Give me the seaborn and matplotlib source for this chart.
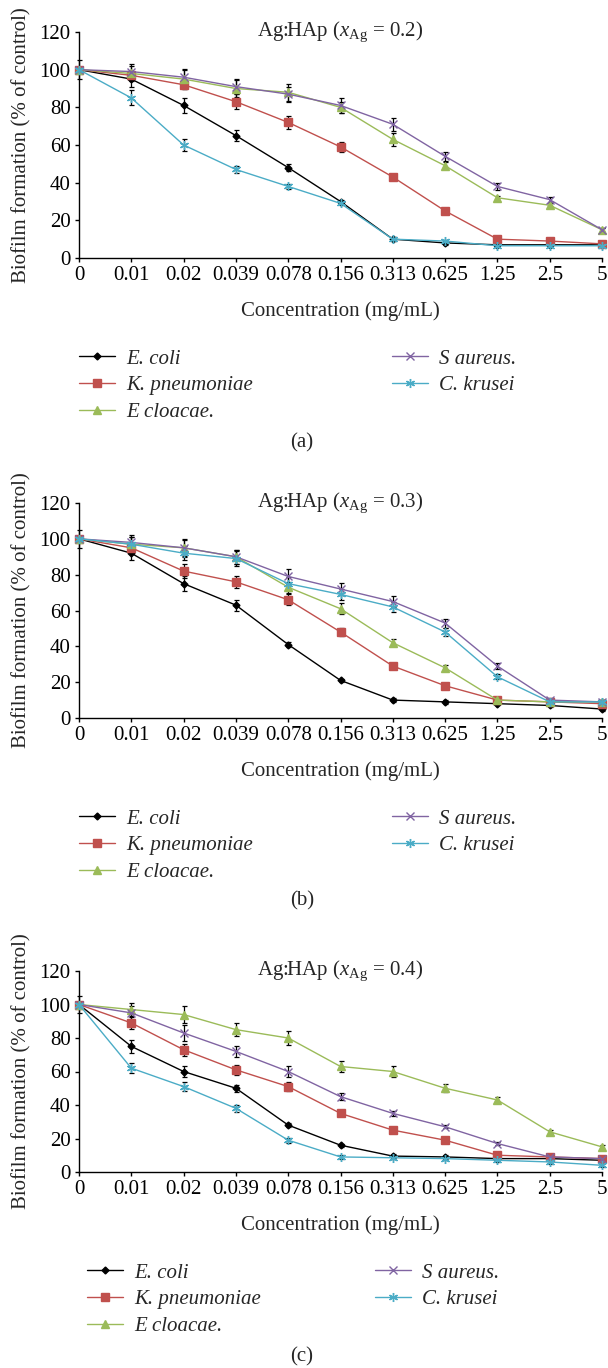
import numpy as np
import pandas as pd
import matplotlib
matplotlib.use("Agg")
import matplotlib.pyplot as plt
import seaborn as sns

# ---------------- data ----------------
conc_labels = ["0", "0.01", "0.02", "0.039", "0.078", "0.156", "0.313",
               "0.625", "1.25", "2.5", "5"]
strains = ["E. coli", "K. pneumoniae", "E cloacae.", "S aureus.", "C. krusei"]
panel_titles = ["0.2", "0.3", "0.4"]
panel_tags = ["(a)", "(b)", "(c)"]

# panel (a) x_Ag = 0.2
a_ecoli = [100, 95, 81, 65, 48, 30, 10, 8, 7, 7, 7]
a_kpneu = [100, 97, 92, 83, 72, 59, 43, 25, 10, 9, 7.5]
a_eclo = [100, 98, 95, 90, 88, 80, 63, 49, 32, 28, 15]
a_saur = [100, 99, 96, 91, 87, 81, 71, 54, 38, 31, 15]
a_ckru = [100, 85, 60, 47, 38, 29, 10, 9, 6.5, 6.5, 6.5]
a_err_ecoli = [5, 4, 4, 3, 2, 1, 1, 1, 0.5, 0.5, 0.5]
a_err_kpneu = [1, 1, 2, 4, 3.5, 2.5, 1.5, 0.5, 0.5, 0.5, 0.5]
a_err_eclo = [1, 4, 5, 4.5, 4.5, 3, 3.5, 2, 1, 1, 1]
a_err_saur = [1, 4, 4.5, 4, 4, 4, 3.5, 2.5, 2, 1.5, 1]
a_err_ckru = [1, 4, 3, 2, 1.5, 1, 1, 0.5, 0.5, 0.5, 0.5]

# panel (b) x_Ag = 0.3
b_ecoli = [100, 92, 75, 63, 41, 21, 10, 9, 8, 7, 5]
b_kpneu = [100, 95, 82, 76, 66, 48, 29, 18, 10, 9, 8]
b_eclo = [100, 97, 95, 90, 73, 61, 42, 28, 10, 9, 9]
b_saur = [100, 98, 95, 90, 79, 72, 65, 53, 29, 10, 9]
b_ckru = [100, 97, 92, 89, 75, 69, 62, 48, 23, 9, 9]
b_err_ecoli = [5, 4, 4, 3, 1.5, 1, 1, 1, 1, 1, 1]
b_err_kpneu = [1, 1, 4, 3.5, 3, 2, 1.5, 1.5, 1, 1, 1]
b_err_eclo = [1, 4, 5, 4, 3, 3, 2, 1.5, 1, 1, 1]
b_err_saur = [1, 4, 4.5, 4, 4, 3.5, 3, 2.5, 1.5, 1, 1]
b_err_ckru = [1, 4, 4, 4, 3.5, 3, 3, 2.5, 1.5, 1, 1]

# panel (c) x_Ag = 0.4
c_ecoli = [100, 75, 60, 50, 28, 16, 9.5, 9, 8, 8, 7]
c_kpneu = [100, 89, 73, 61, 51, 35, 25, 19, 10, 9, 8]
c_eclo = [100, 97, 94, 85, 80, 63, 60, 50, 43, 24, 15]
c_saur = [100, 95, 83, 72, 60, 45, 35, 27, 17, 9, 8]
c_ckru = [100, 62, 51, 38, 19, 9, 8.5, 8, 7, 6, 4]
c_err_ecoli = [5, 4, 3, 2, 1, 1, 1, 1, 1, 1, 1]
c_err_kpneu = [1, 3.5, 3.5, 3, 2.5, 1.5, 1, 1, 1, 1, 1]
c_err_eclo = [1, 4, 5, 4, 4, 3, 3, 2.5, 2, 1, 1]
c_err_saur = [1, 4, 4.5, 3.5, 3, 2, 1.5, 1, 1, 1, 1]
c_err_ckru = [1, 3, 2.5, 2, 1.5, 1, 1, 1, 1, 1, 1]

panels = [
    [a_ecoli, a_kpneu, a_eclo, a_saur, a_ckru],
    [b_ecoli, b_kpneu, b_eclo, b_saur, b_ckru],
    [c_ecoli, c_kpneu, c_eclo, c_saur, c_ckru],
]
panel_errs = [
    [a_err_ecoli, a_err_kpneu, a_err_eclo, a_err_saur, a_err_ckru],
    [b_err_ecoli, b_err_kpneu, b_err_eclo, b_err_saur, b_err_ckru],
    [c_err_ecoli, c_err_kpneu, c_err_eclo, c_err_saur, c_err_ckru],
]

# ---------------- style ----------------
sns.set_style("ticks")
plt.rcParams["font.family"] = ["Liberation Serif", "DejaVu Serif"]
plt.rcParams["mathtext.fontset"] = "custom"
plt.rcParams["mathtext.rm"] = "Liberation Serif"
plt.rcParams["mathtext.it"] = "Liberation Serif:italic"

FS = 15
colors = ["#000000", "#C0504D", "#9BBB59", "#8064A2", "#4BACC6"]
markers = ["D", "s", "^", "x", (6, 2, 0)]
msizes = [3.5, 5.5, 5.5, 5.5, 6.5]

W, H = 608, 1368
fig = plt.figure(figsize=(W / 100, H / 100), dpi=100)

# axes boxes in pixels: (top, bottom)
boxes = [(32, 258), (503, 718), (971, 1172)]
x_left, x_right = 79, 602
legend_cols = [(79, 392), (79, 392), (87, 375)]
tag_y = [443, 901, 1357]


def fx(px):
    return px / W


def fy(py):
    return 1 - py / H


for k, (top, bot) in enumerate(boxes):
    ax = fig.add_axes([fx(x_left), fy(bot), fx(x_right) - fx(x_left), (bot - top) / H])
    xpos = np.arange(len(conc_labels))
    for s, name in enumerate(strains):
        vals = panels[k][s]
        errs = panel_errs[k][s]
        ax.errorbar(xpos, vals, yerr=errs, fmt="none", ecolor="black",
                    elinewidth=0.9, capsize=1.8, capthick=0.9, zorder=2,
                    clip_on=False)
        df = pd.DataFrame({"pos": xpos, "val": vals})
        sns.lineplot(data=df, x="pos", y="val", color=colors[s], marker=markers[s],
                     markersize=msizes[s], markeredgecolor=colors[s],
                     markeredgewidth=1.0, linewidth=1.0, label=name, ax=ax,
                     clip_on=False, zorder=3)
    ax.set_xlim(0, len(conc_labels) - 1)
    ax.set_ylim(0, 120)
    ax.set_yticks(range(0, 121, 20))
    ax.set_xticks(xpos)
    ax.set_xticklabels(conc_labels)
    ax.tick_params(axis="both", labelsize=FS, direction="out", length=3,
                   width=1.0, pad=3, colors="black")
    for sp in ["top", "right"]:
        ax.spines[sp].set_visible(False)
    for sp in ["left", "bottom"]:
        ax.spines[sp].set_linewidth(1.0)
        ax.spines[sp].set_color("black")
    ax.set_xlabel("")
    ax.set_ylabel("Biofilm formation (% of control)", fontsize=FS)
    ax.yaxis.set_label_coords((31 - x_left) / (x_right - x_left), 0.5)

    ax.text(0.5, 1.0, r"Ag:HAp ($x_{\mathrm{Ag}}$ = " + panel_titles[k] + ")",
            transform=ax.transAxes, ha="center", va="center", fontsize=FS)
    fig.text(fx((x_left + x_right) / 2), fy(bot + 53), "Concentration (mg/mL)",
             ha="center", va="center", fontsize=FS)
    fig.text(fx(302), fy(tag_y[k]), panel_tags[k], ha="center", va="center",
             fontsize=FS)

    handles, labels = ax.get_legend_handles_labels()
    ax.get_legend().remove()
    c1, c2 = legend_cols[k]
    leg_top = bot + 91
    leg_kw = dict(loc="upper left", frameon=False, borderpad=0, borderaxespad=0,
                  handlelength=1.75, handletextpad=0.5, labelspacing=0.35,
                  prop={"style": "italic", "size": FS})
    leg1 = ax.legend(handles[:3], labels[:3], bbox_to_anchor=(fx(c1), fy(leg_top)),
                     bbox_transform=fig.transFigure, **leg_kw)
    ax.add_artist(leg1)
    ax.legend(handles[3:], labels[3:], bbox_to_anchor=(fx(c2), fy(leg_top)),
              bbox_transform=fig.transFigure, **leg_kw)

fig.savefig("out.png", dpi=100)
